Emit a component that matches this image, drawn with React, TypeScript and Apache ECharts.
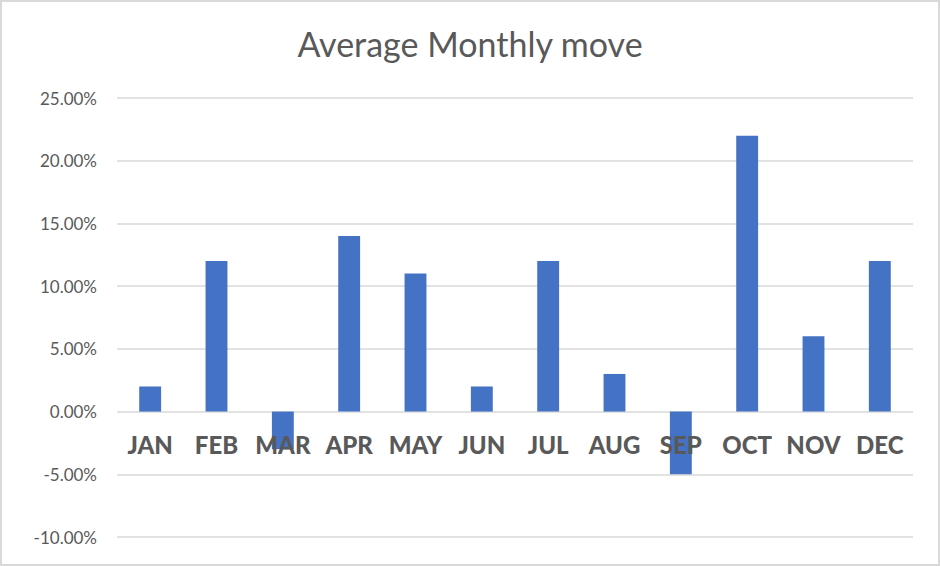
import React, { useEffect, useRef } from "react";
import * as echarts from "echarts";

const months = ["JAN", "FEB", "MAR", "APR", "MAY", "JUN", "JUL", "AUG", "SEP", "OCT", "NOV", "DEC"];
const averageMove = [0.02, 0.12, -0.03, 0.14, 0.11, 0.02, 0.12, 0.03, -0.05, 0.22, 0.06, 0.12];
const yMin = -0.1;
const yMax = 0.25;
const yStep = 0.05;

export default function App() {
  const ref = useRef<HTMLDivElement>(null);
  useEffect(() => {
    document.body.style.margin = "0";
    if (!ref.current) return;
    const chart = echarts.init(ref.current, undefined, { renderer: "svg" });
    chart.setOption({
      animation: false,
      backgroundColor: "#ffffff",
      title: {
        text: "Average Monthly move",
        left: "center",
        top: 19,
        textStyle: {
          fontFamily: "Lato, 'Open Sans', sans-serif",
          fontSize: 34,
          fontWeight: "normal",
          color: "#595959",
        },
      },
      grid: {
        left: 115,
        right: 25,
        top: 96,
        bottom: 27,
        containLabel: false,
        outerBoundsMode: "none",
      },
      xAxis: {
        type: "category",
        data: months,
        axisLine: { show: false },
        axisTick: { show: false },
        axisLabel: { show: false },
      },
      yAxis: {
        type: "value",
        min: yMin,
        max: yMax,
        interval: yStep,
        axisLine: { show: false },
        axisTick: { show: false },
        splitLine: { lineStyle: { color: "#d9d9d9", width: 1.5 } },
        axisLabel: {
          margin: 20,
          fontFamily: "Lato, 'Open Sans', sans-serif",
          fontSize: 17,
          color: "#595959",
          formatter: (v: number) => (v * 100).toFixed(2) + "%",
        },
      },
      series: [
        {
          type: "bar",
          data: averageMove,
          barWidth: "33%",
          itemStyle: { color: "#4472c4" },
          z: 2,
        },
        {
          type: "scatter",
          data: months.map((m) => [m, 0]),
          symbolSize: 1,
          itemStyle: { color: "rgba(0,0,0,0)" },
          silent: true,
          z: 5,
          label: {
            show: true,
            position: "bottom",
            distance: 20,
            formatter: (p: any) => p.data[0],
            fontFamily: "Lato, 'Open Sans', sans-serif",
            fontSize: 24,
            fontWeight: 900,
            color: "#595959",
            opacity: 1,
            textBorderWidth: 0,
          },
        },
      ],
    });
    return () => chart.dispose();
  }, []);
  return (
    <div
      style={{
        width: 940,
        height: 566,
        boxSizing: "border-box",
        border: "2px solid #d9d9d9",
        background: "#fff",
      }}
    >
      <div ref={ref} style={{ width: 936, height: 562 }} />
    </div>
  );
}
